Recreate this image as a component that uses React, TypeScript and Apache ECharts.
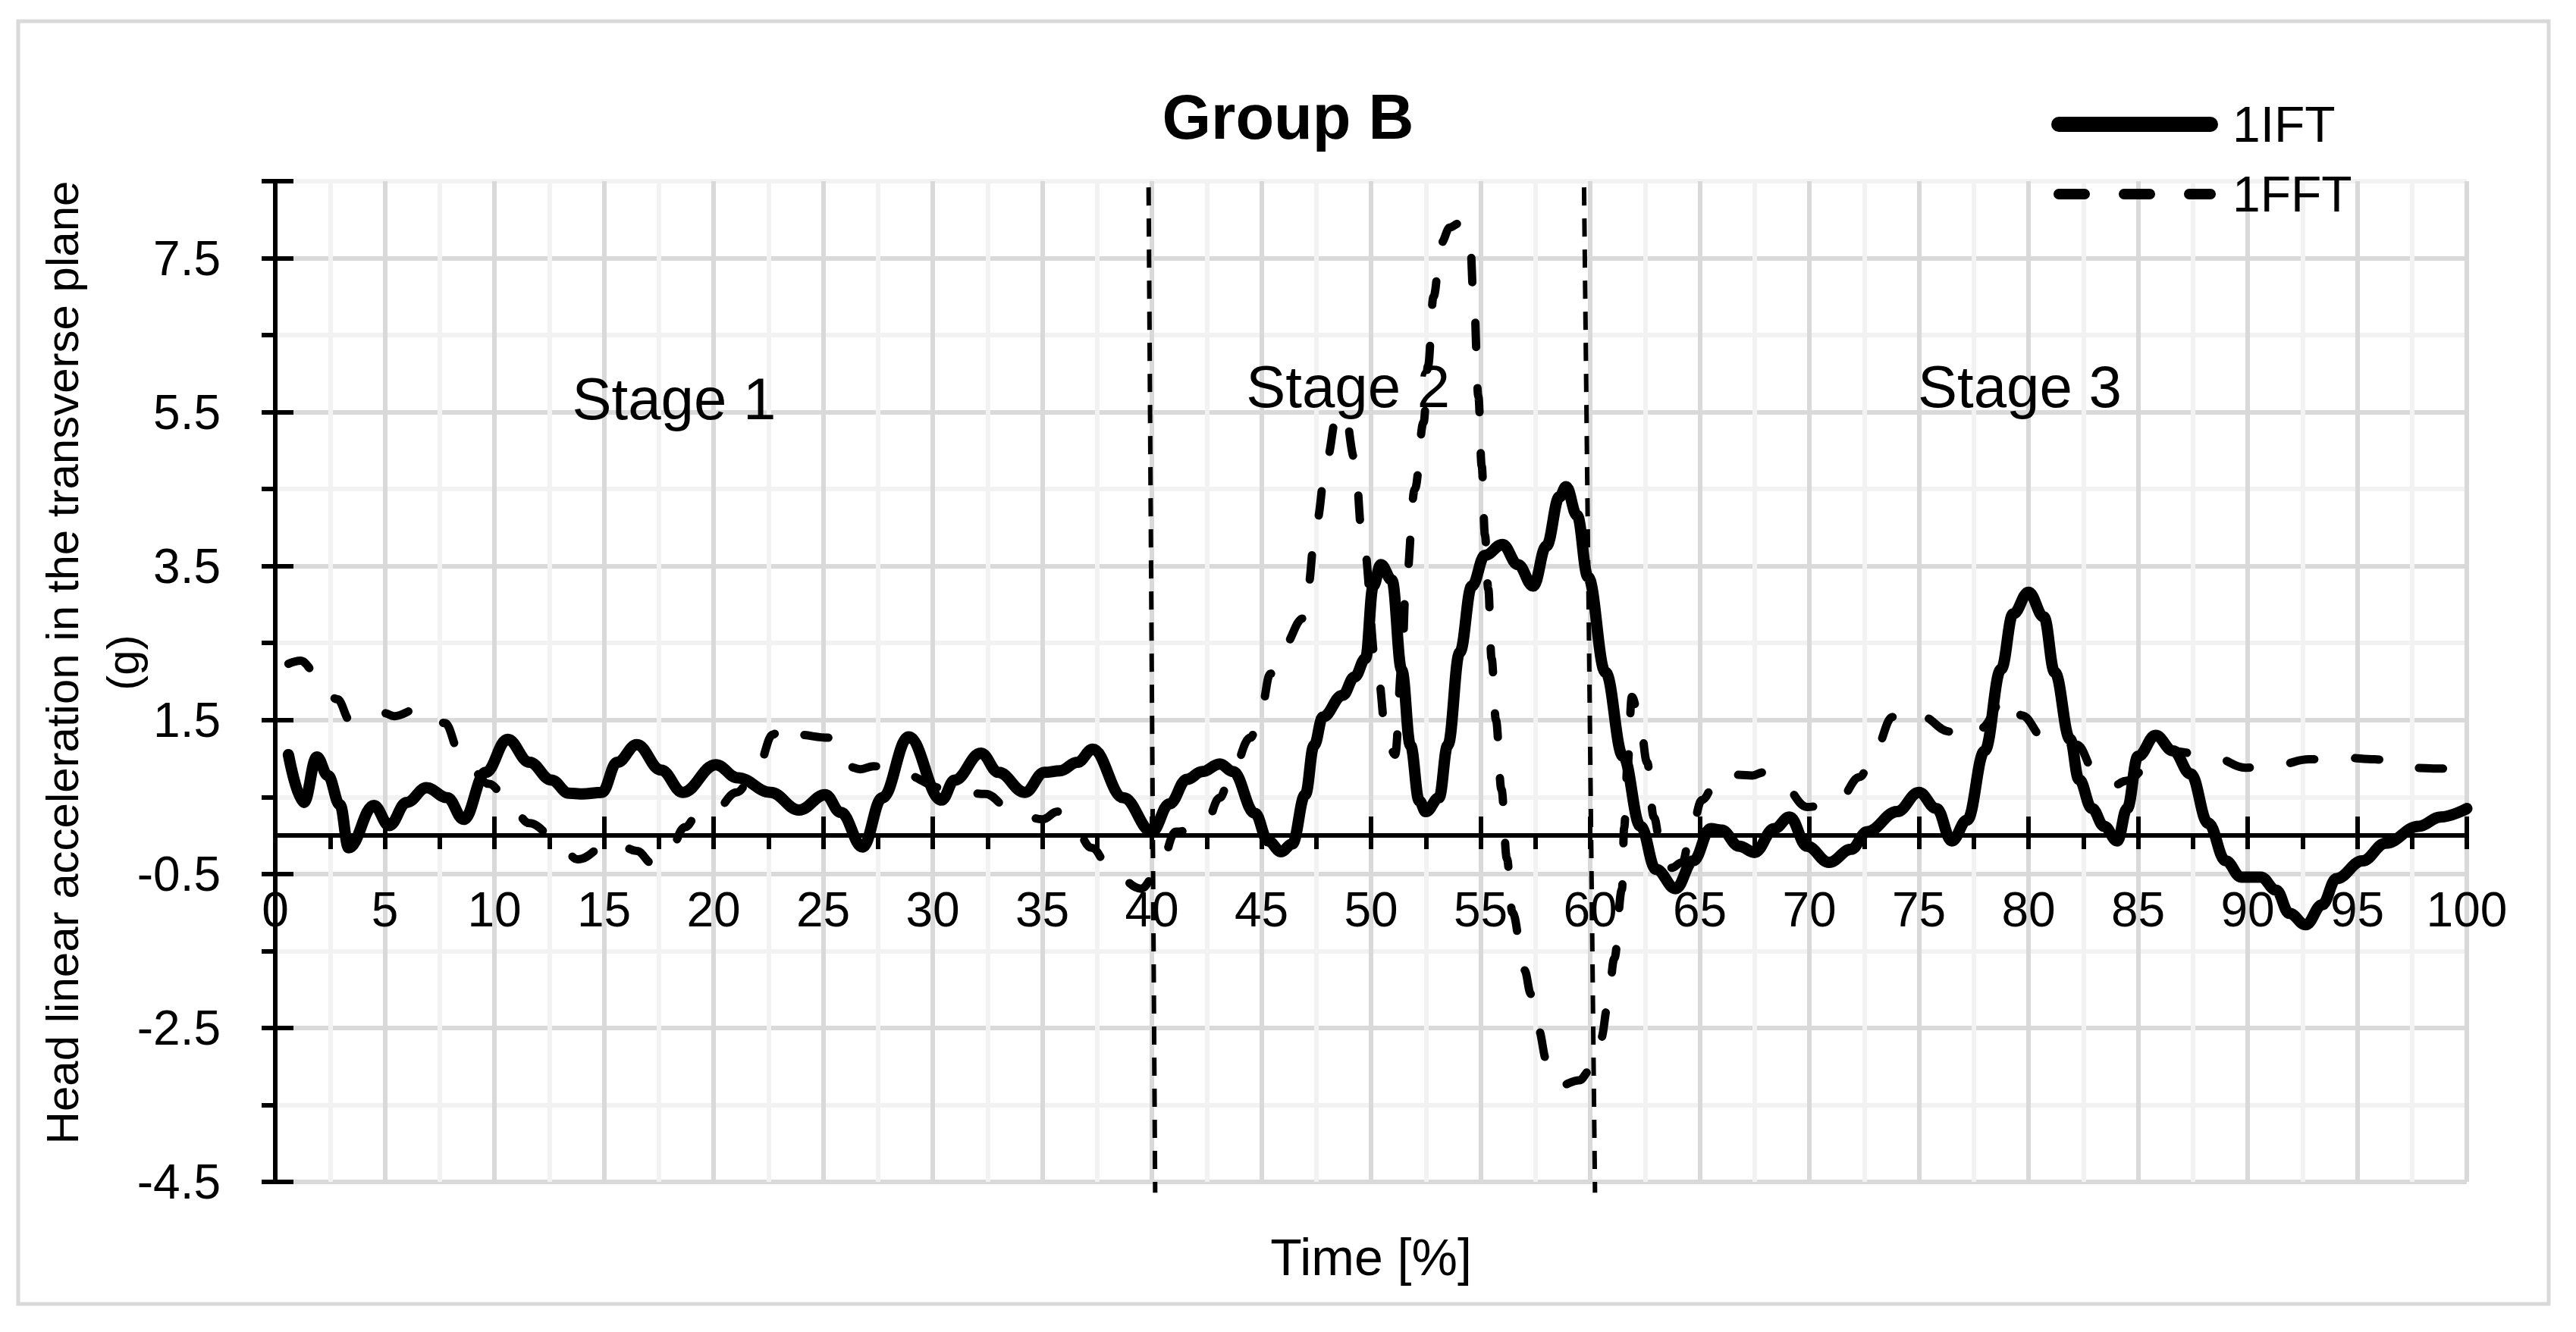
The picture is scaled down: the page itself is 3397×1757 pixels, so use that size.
import React, { useEffect, useRef } from 'react';
import * as echarts from 'echarts';

// [time %, acceleration g]
const ift1Points: [number, number][] = [
  [0.6, 1.05], [1.3, 0.43], [1.9, 1.02], [2.4, 0.78], [2.95, 0.4], [3.35, -0.16], [4.5, 0.39],
  [5.2, 0.13], [6.0, 0.43], [6.9, 0.62], [7.85, 0.49], [8.6, 0.21], [9.6, 0.82], [10.6, 1.25],
  [11.6, 0.95], [12.6, 0.72], [13.4, 0.55], [14.0, 0.54], [14.9, 0.56], [15.6, 0.95], [16.5, 1.18],
  [17.6, 0.85], [18.6, 0.56], [20.1, 0.92], [21.1, 0.75], [22.6, 0.56], [23.9, 0.33], [25.1, 0.53],
  [25.8, 0.3], [26.8, -0.15], [27.7, 0.49], [28.9, 1.28], [30.4, 0.46], [31.0, 0.72], [32.2, 1.07],
  [33.0, 0.82], [34.2, 0.56], [35.1, 0.82], [35.8, 0.84], [36.6, 0.95], [37.3, 1.12], [38.7, 0.49],
  [40.0, 0.05], [40.8, 0.41], [41.6, 0.73], [42.3, 0.83], [43.1, 0.93], [43.7, 0.83], [44.7, 0.29],
  [45.3, -0.07], [45.9, -0.21], [46.4, -0.11], [47.0, 0.53], [47.4, 1.17], [47.8, 1.54], [48.7, 1.82],
  [49.25, 2.06], [49.75, 2.3], [50.1, 3.24], [50.45, 3.52], [50.95, 3.32], [51.4, 2.15], [51.8, 1.17],
  [52.2, 0.45], [52.5, 0.31], [53.1, 0.49], [53.5, 1.17], [54.05, 2.38], [54.6, 3.24], [55.2, 3.64],
  [56.0, 3.78], [56.7, 3.52], [57.4, 3.24], [58.0, 3.76], [58.6, 4.4], [58.9, 4.53], [59.4, 4.16],
  [59.9, 3.36], [60.7, 2.12], [61.5, 1.03], [62.3, 0.12], [63.0, -0.44], [63.9, -0.69], [64.7, -0.33],
  [65.5, 0.09], [66.0, 0.07], [66.8, -0.14], [67.5, -0.22], [68.4, 0.09], [69.1, 0.24], [69.9, -0.14],
  [70.9, -0.35], [71.9, -0.18], [72.65, 0.05], [74.0, 0.31], [75.0, 0.56], [75.8, 0.35], [76.5, -0.07],
  [77.2, 0.2], [78.0, 1.1], [78.75, 2.16], [79.3, 2.88], [80.0, 3.16], [80.7, 2.84], [81.2, 2.12],
  [81.9, 1.25], [82.3, 0.73], [82.9, 0.35], [83.45, 0.12], [84.05, -0.07], [84.5, 0.35], [85.0, 1.03],
  [85.8, 1.3], [86.6, 1.1], [87.4, 0.8], [88.2, 0.16], [89.0, -0.33], [89.7, -0.54], [90.6, -0.54],
  [91.3, -0.71], [91.9, -1.01], [92.65, -1.16], [93.4, -0.9], [94.05, -0.56], [95.24, -0.33],
  [96.3, -0.1], [97.8, 0.12], [98.8, 0.24], [100, 0.35],
];

const fft1Points: [number, number][] = [
  [0.6, 2.23], [1.15, 2.27], [1.85, 2.12], [2.83, 1.77], [3.43, 1.49], [4.97, 1.59], [5.43, 1.55],
  [6.47, 1.64], [6.9, 1.65], [7.74, 1.46], [8.43, 1.08], [9.76, 0.67], [10.5, 0.51], [11.6, 0.16],
  [12.8, -0.03], [13.8, -0.31], [15.4, -0.07], [16.5, -0.2], [17.2, -0.36], [17.9, -0.26], [18.7, 0.11],
  [19.3, 0.28], [20.0, 0.3], [21.05, 0.56], [22.05, 0.92], [22.7, 1.31], [23.2, 1.47], [23.8, 1.31],
  [25.25, 1.27], [26.1, 0.9], [26.7, 0.86], [27.3, 0.9], [28.7, 0.79], [30.4, 0.62], [32.4, 0.54],
  [33.6, 0.33], [35.0, 0.21], [35.7, 0.31], [36.3, 0.21], [37.25, -0.16], [38.2, -0.48], [39.5, -0.69],
  [40.3, -0.46], [41.1, 0.05], [42.4, 0.11], [43.1, 0.49], [43.5, 0.69], [44.5, 1.27], [45.0, 1.66],
  [45.4, 2.1], [46.0, 2.46], [46.9, 2.82], [47.1, 3.2], [47.5, 4.06], [48.0, 4.91], [48.4, 5.4],
  [48.8, 5.5], [49.25, 4.9], [49.6, 3.9], [50.3, 2.1], [50.7, 1.3], [51.1, 1.05], [51.4, 2.2],
  [51.6, 3.3], [52.0, 4.5], [52.4, 5.37], [52.6, 6.1], [52.85, 7.0], [53.2, 7.7], [53.6, 7.9],
  [54.0, 7.95], [54.5, 7.78], [54.7, 6.9], [54.9, 5.7], [55.05, 4.8], [55.2, 3.9], [55.35, 3.2],
  [55.5, 2.3], [55.7, 1.5], [55.95, 0.6], [56.2, -0.3], [56.45, -1.0], [57.0, -1.75], [57.3, -2.06],
  [57.65, -2.53], [58.0, -2.91], [58.6, -3.25], [59.5, -3.18], [60.0, -3.05], [60.5, -2.63],
  [60.8, -2.22], [61.1, -1.6], [61.45, -0.7], [61.55, 0.1], [61.7, 0.9], [61.9, 1.8], [62.25, 1.52],
  [62.6, 0.95], [62.9, 0.24], [63.25, -0.18], [63.7, -0.42], [64.2, -0.35], [64.6, 0.05], [65.1, 0.46],
  [65.9, 0.8], [67.4, 0.78], [67.9, 0.82], [68.7, 0.69], [69.9, 0.37], [71.3, 0.44], [72.3, 0.76],
  [73.0, 1.12], [73.8, 1.54], [74.4, 1.64], [75.1, 1.55], [76.4, 1.35], [77.2, 1.25], [77.8, 1.39],
  [79.0, 1.82], [79.7, 1.56], [80.7, 1.27], [81.5, 1.23], [82.2, 1.18], [83.1, 0.8], [83.9, 0.65],
  [84.45, 0.71], [85.7, 0.95], [86.2, 1.18], [86.5, 1.1], [88.5, 1.01], [89.9, 0.88], [91.4, 0.92],
  [92.8, 0.99], [94.4, 1.01], [95.8, 0.99], [97.4, 0.88], [98.8, 0.87], [100, 0.86],
];

const yLabelValues = [-4.5, -2.5, -0.5, 1.5, 3.5, 5.5, 7.5];
const stageNames = ['Stage 1', 'Stage 2', 'Stage 3'];
const stageLabelAt: [number, number][] = [[18.2, 5.67], [48.95, 5.83], [79.6, 5.83]];
// stage boundaries: [x at top, x at bottom], drawn from stageTop down to stageBottom
const stageBounds: [number, number][] = [[39.85, 40.15], [59.72, 60.22]];
const stageTop = 8.42;
const stageBottom = -4.64;
const yAxisTitle = ['Head linear acceleration in the transverse plane', '(g)'];

const font = "'Liberation Sans', Arial, sans-serif";

const App: React.FC = () => {
  const chartRef = useRef<HTMLDivElement>(null);

  useEffect(() => {
    if (!chartRef.current) return;
    const chart = echarts.init(chartRef.current, undefined, { renderer: 'svg' });

    const tickOnly = {
      axisLine: { show: false, onZero: false },
      axisLabel: { show: false },
      splitLine: { show: false },
    };

    const boundarySeries = stageBounds.map(([top, bottom], i) => ({
      name: `boundary${i}`,
      type: 'line',
      data: [
        [top, stageTop],
        [bottom, stageBottom],
      ],
      symbol: 'none',
      clip: false,
      silent: true,
      z: 2,
      lineStyle: { color: '#000', width: 6, type: [24, 17] },
    }));

    const option: any = {
      animation: false,
      color: ['#000', '#000'],
      title: {
        text: 'Group B',
        left: 'center',
        top: 113,
        padding: 0,
        textStyle: { fontSize: 83, fontWeight: 'bold', color: '#000', fontFamily: font },
      },
      legend: {
        orient: 'vertical',
        left: 2700,
        top: 126,
        itemWidth: 200,
        itemHeight: 30,
        itemGap: 26,
        selectedMode: false,
        data: [
          {
            name: '1IFT',
            itemStyle: { opacity: 0 },
            lineStyle: { color: '#000', width: 20, type: 'solid', cap: 'round' },
          },
          {
            name: '1FFT',
            itemStyle: { opacity: 0 },
            lineStyle: { color: '#000', width: 14, type: [34, 52], cap: 'round' },
          },
        ],
        textStyle: { fontSize: 66, color: '#000', fontFamily: font, padding: [0, 0, 0, 24] },
      },
      grid: { left: 363, right: 144, top: 239, bottom: 198, outerBoundsMode: 'none' },
      xAxis: [
        {
          type: 'value',
          min: 0,
          max: 100,
          interval: 2.5,
          position: 'bottom',
          name: 'Time [%]',
          nameLocation: 'middle',
          nameGap: 522,
          nameTextStyle: { fontSize: 68, color: '#000', fontFamily: font },
          axisLine: { show: true, onZero: false, lineStyle: { color: '#000', width: 6 } },
          axisTick: { show: false },
          axisLabel: {
            margin: 66,
            fontSize: 64,
            color: '#000',
            fontFamily: font,
            formatter: (v: number) => (v % 5 === 0 ? String(v) : ''),
          },
          splitLine: { show: true, lineStyle: { color: ['#d9d9d9', '#f2f2f2'], width: 6 } },
        },
        {
          type: 'value', min: 0, max: 100, interval: 2.5, position: 'bottom', ...tickOnly,
          axisTick: { show: true, inside: false, length: 18, lineStyle: { color: '#000', width: 6 } },
        },
        {
          type: 'value', min: 0, max: 100, interval: 5, position: 'bottom', ...tickOnly,
          axisTick: { show: true, inside: true, length: 25, lineStyle: { color: '#000', width: 6 } },
        },
      ],
      yAxis: [
        {
          type: 'value',
          min: -4.5,
          max: 8.5,
          interval: 0.5,
          position: 'left',
          axisLine: { show: true, onZero: false, lineStyle: { color: '#000', width: 6 } },
          axisTick: { show: false },
          axisLabel: {
            margin: 72,
            fontSize: 64,
            color: '#000',
            fontFamily: font,
            formatter: (v: number) =>
              yLabelValues.some((t) => Math.abs(t - v) < 1e-6) ? v.toFixed(1) : '',
          },
          splitLine: {
            show: true,
            lineStyle: { color: ['#d9d9d9', 'rgba(0,0,0,0)', '#f2f2f2', 'rgba(0,0,0,0)'], width: 6 },
          },
        },
        // tick overlays, shifted scales so their integer ticks land on the .5 values
        {
          type: 'value', min: -5, max: 8, interval: 1, position: 'left', ...tickOnly,
          axisTick: { show: true, inside: false, length: 18, lineStyle: { color: '#000', width: 6 } },
        },
        {
          type: 'value', min: -6, max: 7, interval: 2, position: 'left', ...tickOnly,
          axisTick: { show: true, inside: true, length: 24, lineStyle: { color: '#000', width: 6 } },
        },
      ],
      graphic: [
        {
          type: 'rect',
          silent: true,
          shape: { x: 24, y: 28, width: 3337, height: 1692 },
          style: { fill: 'none', stroke: '#d9d9d9', lineWidth: 5 },
        },
        {
          type: 'text',
          silent: true,
          x: 122,
          y: 874,
          rotation: Math.PI / 2,
          style: {
            text: yAxisTitle.join('\n'),
            fill: '#000',
            fontSize: 60,
            fontFamily: font,
            lineHeight: 80,
            align: 'center',
            verticalAlign: 'middle',
            textAlign: 'center',
            textVerticalAlign: 'middle',
          },
        },
      ],
      series: [
        {
          name: '1IFT',
          type: 'line',
          data: ift1Points,
          smooth: 0.4,
          smoothMonotone: 'x',
          symbol: 'none',
          z: 4,
          lineStyle: { color: '#000', width: 15, cap: 'round', join: 'round' },
        },
        {
          name: '1FFT',
          type: 'line',
          data: fft1Points,
          smooth: 0.4,
          smoothMonotone: 'x',
          symbol: 'none',
          z: 3,
          lineStyle: { color: '#000', width: 11, type: [32, 54], cap: 'round', join: 'round' },
        },
        ...boundarySeries,
        {
          name: 'stages',
          type: 'line',
          data: [],
          z: 2,
          silent: true,
          markPoint: {
            silent: true,
            symbol: 'rect',
            symbolSize: 1,
            itemStyle: { color: 'rgba(0,0,0,0)' },
            label: {
              show: true,
              position: 'inside',
              formatter: '{b}',
              color: '#000',
              fontSize: 78,
              fontFamily: font,
            },
            data: stageNames.map((name, i) => ({ name, coord: stageLabelAt[i] })),
          },
        },
      ],
    };

    chart.setOption(option);

    // move the x axes (line, ticks, labels, name) up onto y = 0
    const zeroY = chart.convertToPixel({ yAxisIndex: 0 }, 0) as number;
    const bottomY = chart.convertToPixel({ yAxisIndex: 0 }, -4.5) as number;
    const shift = zeroY - bottomY;
    chart.setOption({ xAxis: [{ offset: shift }, { offset: shift }, { offset: shift }] });

    return () => {
      chart.dispose();
    };
  }, []);

  return (
    <div
      ref={chartRef}
      style={{ position: 'fixed', left: 0, top: 0, width: '3397px', height: '1757px', background: '#fff' }}
    />
  );
};

export default App;
